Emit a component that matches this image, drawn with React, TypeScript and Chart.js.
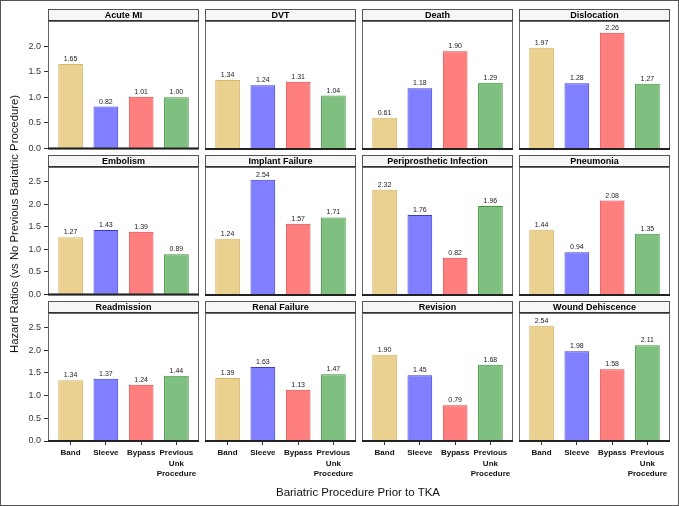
import React, { useEffect, useRef } from 'react';
import { Chart, registerables } from 'chart.js';

Chart.register(...registerables);

// ---------- data ----------
const categoryLabels: string[][] = [['Band'], ['Sleeve'], ['Bypass'], ['Previous', 'Unk', 'Procedure']];

const panelTitles = [
  'Acute MI', 'DVT', 'Death', 'Dislocation',
  'Embolism', 'Implant Failure', 'Periprosthetic Infection', 'Pneumonia',
  'Readmission', 'Renal Failure', 'Revision', 'Wound Dehiscence',
];

const acuteMI = [1.65, 0.82, 1.01, 1.0];
const dvt = [1.34, 1.24, 1.31, 1.04];
const death = [0.61, 1.18, 1.9, 1.29];
const dislocation = [1.97, 1.28, 2.26, 1.27];
const embolism = [1.27, 1.43, 1.39, 0.89];
const implantFailure = [1.24, 2.54, 1.57, 1.71];
const periprostheticInfection = [2.32, 1.76, 0.82, 1.96];
const pneumonia = [1.44, 0.94, 2.08, 1.35];
const readmission = [1.34, 1.37, 1.24, 1.44];
const renalFailure = [1.39, 1.63, 1.13, 1.47];
const revision = [1.9, 1.45, 0.79, 1.68];
const woundDehiscence = [2.54, 1.98, 1.58, 2.11];

const panelValues = [
  acuteMI, dvt, death, dislocation,
  embolism, implantFailure, periprostheticInfection, pneumonia,
  readmission, renalFailure, revision, woundDehiscence,
];

const rowYMax = [2.49, 2.82, 2.82];
const yTickStep = 0.5;

const yAxisTitle = 'Hazard Ratios (vs No Previous Bariatric Procedure)';
const xAxisTitle = 'Bariatric Procedure Prior to TKA';

// ---------- styles ----------
const FONT = '"Liberation Sans", Arial, Helvetica, sans-serif';
const barFills = ['rgb(234,209,143)', 'rgb(127,127,255)', 'rgb(255,127,127)', 'rgb(127,191,127)'];
const barBorders = ['rgb(214,182,105)', 'rgb(60,60,205)', 'rgb(210,65,65)', 'rgb(60,150,60)'];

const FRAME_W = 151;
const PLOT_H = 128;
const HEADER_H = 12;
const COL_X0 = 47;
const COL_PITCH = 157;
const ROW_Y0 = 8;
const ROW_PITCH = 146;

function Panel({ index }: { index: number }) {
  const ref = useRef<HTMLCanvasElement | null>(null);
  const r = Math.floor(index / 4);
  const c = index % 4;
  const frameX = COL_X0 + COL_PITCH * c;
  const headerY = ROW_Y0 + ROW_PITCH * r;
  const padL = c === 0 ? 47 : 3;
  const padR = 3;
  const padT = HEADER_H + 1;
  const padB = r === 2 ? 50 : 8;
  const W = padL + FRAME_W + padR;
  const H = padT + PLOT_H + padB;

  useEffect(() => {
    const values = panelValues[index];
    const title = panelTitles[index];
    const showX = r === 2;
    const showY = c === 0;
    const decor = {
      id: 'decor' + index,
      afterDatasetsDraw(chart: any) {
        const ctx = chart.ctx;
        const meta = chart.getDatasetMeta(0);
        ctx.save();
        ctx.font = `7px ${FONT}`;
        ctx.fillStyle = '#222';
        ctx.textAlign = 'center';
        ctx.textBaseline = 'alphabetic';
        meta.data.forEach((el: any, i: number) => {
          ctx.fillText(values[i].toFixed(2), el.x, el.y - 3);
        });
        ctx.restore();
      },
      afterDraw(chart: any) {
        const ctx = chart.ctx;
        const a = chart.chartArea;
        const w = a.right - a.left;
        const h = a.bottom - a.top;
        const hy = a.top - HEADER_H;
        ctx.save();
        // header strip
        ctx.fillStyle = '#f6f6f6';
        ctx.fillRect(a.left, hy, w, HEADER_H);
        ctx.strokeStyle = '#555';
        ctx.lineWidth = 1;
        ctx.strokeRect(a.left + 0.5, hy + 0.5, w - 1, HEADER_H);
        ctx.fillStyle = '#333';
        ctx.fillRect(a.left, a.top - 1, w, 2);
        ctx.font = `bold 9px ${FONT}`;
        ctx.fillStyle = '#000';
        ctx.textAlign = 'center';
        ctx.textBaseline = 'middle';
        ctx.fillText(title, a.left + w / 2, hy + HEADER_H / 2 + 0.5);
        // frame
        ctx.strokeStyle = '#666';
        ctx.strokeRect(a.left + 0.5, a.top + 0.5, w - 1, h - 1);
        ctx.fillStyle = '#222';
        ctx.fillRect(a.left, a.bottom - 1, w, 2);
        ctx.restore();
      },
    };

    const chart = new Chart(ref.current as HTMLCanvasElement, {
      type: 'bar',
      data: {
        datasets: [
          {
            data: values.map((v, i) => ({ x: i, y: v })) as any,
            backgroundColor: barFills,
            borderColor: barBorders,
            borderWidth: 1,
            barPercentage: 0.7,
            categoryPercentage: 1,
          },
        ],
      },
      options: {
        responsive: false,
        animation: false,
        devicePixelRatio: 1,
        layout: {
          padding: {
            left: showY ? 0 : padL,
            right: padR,
            top: padT,
            bottom: showX ? 0 : padB,
          },
        },
        plugins: {
          legend: { display: false },
          tooltip: { enabled: false },
        },
        scales: {
          x: {
            type: 'linear',
            min: -0.64,
            max: 3.64,
            offset: false,
            display: showX,
            afterFit: (s: any) => {
              s.height = showX ? 50 : 0;
            },
            grid: { offset: false, drawOnChartArea: false, drawTicks: true, tickLength: 4, color: '#333' },
            border: { display: false },
            ticks: {
              stepSize: 1,
              includeBounds: false,
              autoSkip: false,
              maxRotation: 0,
              minRotation: 0,
              padding: 3,
              color: '#111',
              font: { family: FONT, size: 8, weight: 'bold', lineHeight: 1.28 },
              callback: (v: any) => categoryLabels[Math.round(v)] ?? '',
            },
          },
          y: {
            min: 0,
            max: rowYMax[r],
            display: showY,
            afterFit: (s: any) => {
              s.width = showY ? 47 : 0;
            },
            grid: { drawOnChartArea: false, drawTicks: true, tickLength: 4, color: '#333' },
            border: { display: false },
            ticks: {
              stepSize: yTickStep,
              includeBounds: false,
              padding: 3,
              color: '#333',
              font: { family: FONT, size: 9 },
              callback: (v: any) => Number(v).toFixed(1),
            },
          },
        },
      } as any,
      plugins: [decor],
    });
    return () => chart.destroy();
  }, [index]);

  return (
    <canvas
      ref={ref}
      width={W}
      height={H}
      style={{
        position: 'absolute',
        left: frameX - padL,
        top: headerY - 1,
        width: W,
        height: H,
      }}
    />
  );
}

export default function App() {
  return (
    <div
      style={{
        position: 'absolute',
        left: 0,
        top: 0,
        width: 679,
        height: 506,
        boxSizing: 'border-box',
        border: '1px solid #555',
        background: '#fff',
        overflow: 'hidden',
        fontFamily: FONT,
      }}
    >
      {panelTitles.map((_, i) => (
        <Panel key={i} index={i} />
      ))}
      <div
        style={{
          position: 'absolute',
          left: 14 - 150 - 1,
          top: 224 - 8 - 1,
          width: 300,
          height: 16,
          lineHeight: '16px',
          textAlign: 'center',
          fontSize: 11.3,
          color: '#111',
          transform: 'rotate(-90deg)',
          transformOrigin: '50% 50%',
          whiteSpace: 'nowrap',
        }}
      >
        {yAxisTitle}
      </div>
      <div
        style={{
          position: 'absolute',
          left: 358 - 200 - 1,
          top: 492 - 8 - 1,
          width: 400,
          height: 16,
          lineHeight: '16px',
          textAlign: 'center',
          fontSize: 11.5,
          color: '#111',
          whiteSpace: 'nowrap',
        }}
      >
        {xAxisTitle}
      </div>
    </div>
  );
}
